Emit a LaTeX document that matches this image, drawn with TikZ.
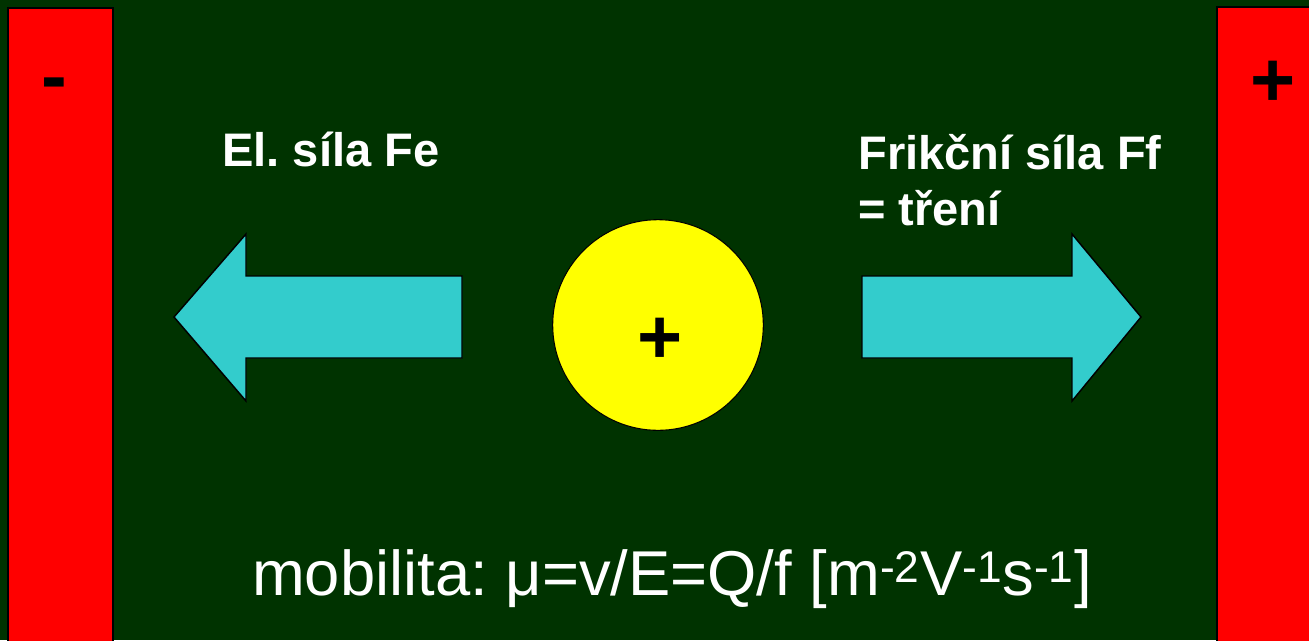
\documentclass[tikz,border=0pt]{standalone}
\usepackage{fontspec}
\setmainfont{Liberation Sans}
\frenchspacing
\definecolor{bggreen}{HTML}{003300}
\definecolor{barred}{HTML}{FF0000}
\definecolor{arrowcyan}{HTML}{33CCCC}
\definecolor{ionyellow}{HTML}{FFFF00}
\tikzset{
  electrode/.style={fill=barred, draw=black, line width=1.5pt},
  forcearrow/.style={fill=arrowcyan, draw=black, line width=1.1pt, line join=miter},
  ion/.style={circle, fill=ionyellow, draw=black, line width=0.8pt, minimum size=158pt, inner sep=0pt},
  label/.style={text=white, font=\fontsize{35.3pt}{42pt}\selectfont\bfseries, inner sep=0pt, anchor=base west},
  sign/.style={text=black, font=\fontsize{58pt}{60pt}\selectfont\bfseries, inner sep=0pt, anchor=base},
  formula/.style={text=white, font=\fontsize{47.5pt}{50pt}\selectfont, inner sep=0pt, anchor=base}
}
\begin{document}
\begin{tikzpicture}[x=0.75pt, y=-0.75pt]
\useasboundingbox (0,0) rectangle (1309,640);
\fill[bggreen] (0,0) rectangle (1309,640);
\begin{scope}
\clip (0,0) rectangle (1309,640);
\draw[electrode] (8,8) rectangle (113,660);
\draw[electrode] (1217,7) rectangle (1330,660);
\end{scope}
% arrows
\draw[forcearrow] (174,317) -- (246,234) -- (246,276) -- (462,276) -- (462,358) -- (246,358) -- (246,401) -- cycle;
\draw[forcearrow] (1141,317) -- (1072,234) -- (1072,276) -- (862,276) -- (862,358) -- (1072,358) -- (1072,401) -- cycle;
% ion
\node[ion] (ion) at (658,325) {};
% signs
\node[sign] (minus) at (54,102) {-};
\node[sign] (plusR) at (1273,106) {+};
\node[sign] (plusI) at (660,363) {+};
% labels
\node[label] (fe) at (222,166) {El. síla Fe};
\node[label] (ff1) at (858,169) {Frikční síla Ff};
\node[label] (ff2) at (858,225) {= tření};
\node[formula] (mob) at (672,595) {mobilita: μ=v/E=Q/f [m\textsuperscript{-2}V\textsuperscript{-1}s\textsuperscript{-1}]};
\end{tikzpicture}
\end{document}
